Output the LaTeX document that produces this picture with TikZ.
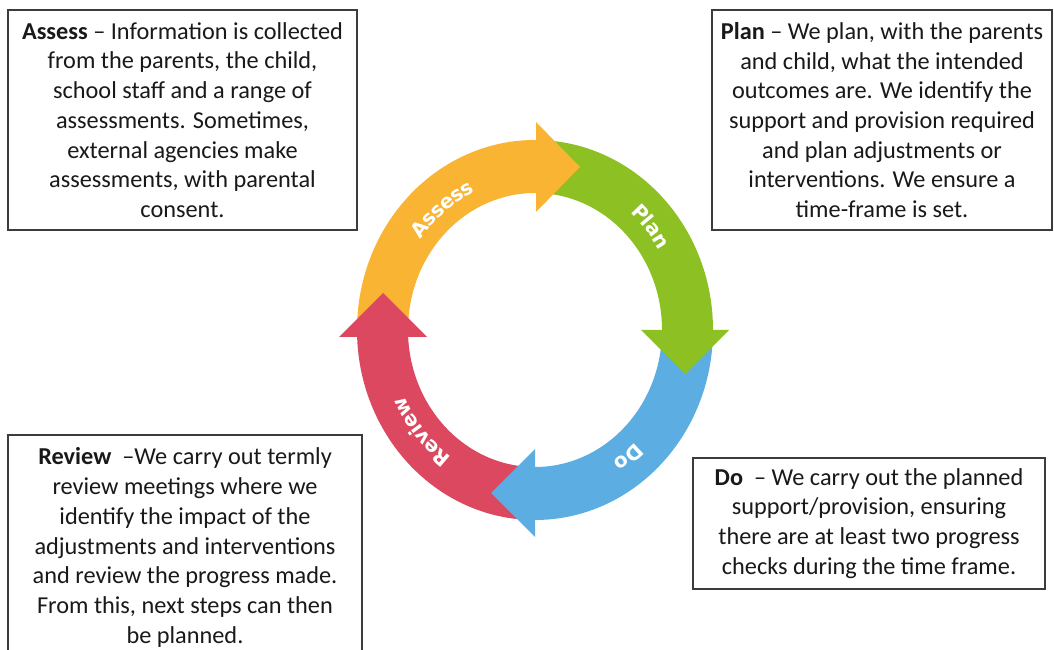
\documentclass[tikz,border=0pt]{standalone}
\usepackage{fontspec}
\setmainfont{Carlito}
\newfontfamily\lblfont{DejaVu Sans}
\usetikzlibrary{calc,decorations.text}
\definecolor{cOrange}{RGB}{248,180,50}
\definecolor{cGreen}{RGB}{140,192,35}
\definecolor{cBlue}{RGB}{92,174,226}
\definecolor{cRed}{RGB}{220,72,96}
\definecolor{boxline}{RGB}{60,60,60}
\definecolor{boxtext}{RGB}{25,25,25}
\newcommand{\lblfmt}{\lblfont\bfseries\fontsize{20}{20}\selectfont\color{white}}
\begin{document}
\begin{tikzpicture}[x=1pt,y=1pt,
  infobox/.style={draw=boxline, line width=1.5, align=center, inner sep=0pt,
    font=\fontsize{24.3}{29.7}\selectfont, text=boxtext},
  lbl/.style={decorate, decoration={text along path, text align=center, raise=-7.5pt, text={|\lblfmt|#1}}}]
\useasboundingbox (0,0) rectangle (1054,650);
\fill[white] (0,0) rectangle (1054,650);
\coordinate (c) at (535,320);
% bodies: outer radii 178/190, inner 127/137
\fill[cOrange] ($(c)+(178:178 and 190)$) arc[start angle=178, end angle=89, x radius=178, y radius=190]
  -- ($(c)+(89:127 and 137)$) arc[start angle=89, end angle=178, x radius=127, y radius=137] -- cycle;
\fill[cGreen] ($(c)+(88:178 and 190)$) arc[start angle=88, end angle=-1, x radius=178, y radius=190]
  -- ($(c)+(-1:127 and 137)$) arc[start angle=-1, end angle=88, x radius=127, y radius=137] -- cycle;
\fill[cBlue] ($(c)+(-2:178 and 190)$) arc[start angle=-2, end angle=-91, x radius=178, y radius=190]
  -- ($(c)+(-91:127 and 137)$) arc[start angle=-91, end angle=-2, x radius=127, y radius=137] -- cycle;
\fill[cRed] ($(c)+(-92:178 and 190)$) arc[start angle=-92, end angle=-181, x radius=178, y radius=190]
  -- ($(c)+(-181:127 and 137)$) arc[start angle=-181, end angle=-92, x radius=127, y radius=137] -- cycle;
% arrowheads
\fill[cOrange] (536,438) -- (580,483) -- (536,528) -- cycle;
\fill[cGreen] (641,320) -- (685,276) -- (729,320) -- cycle;
\fill[cBlue] (535,113) -- (491,157) -- (535,201) -- cycle;
\fill[cRed] (339,313) -- (383,357) -- (427,313) -- cycle;
% labels along the arcs
\path[lbl=Assess] ($(c)+(152:150 and 160)$) arc[start angle=152, end angle=106, x radius=150, y radius=160];
\path[lbl=Plan] ($(c)+(62:152 and 163)$) arc[start angle=62, end angle=18, x radius=152, y radius=163];
\path[lbl=Do] ($(c)+(-30:152 and 163)$) arc[start angle=-30, end angle=-74, x radius=152, y radius=163];
\path[lbl=Review] ($(c)+(-117:152 and 163)$) arc[start angle=-117, end angle=-163, x radius=152, y radius=163];
% boxes
\node[infobox, minimum width=349, minimum height=220] (assessbox) at (182.5,530)
 {\textbf{Assess} – Information is collected\\ from the parents, the child,\\ school staff and a range of\\ assessments. Sometimes,\\ external agencies make\\ assessments, with parental\\ consent.};
\node[infobox, minimum width=340, minimum height=220] (planbox) at (882,530)
 {\textbf{Plan} – We plan, with the parents\\ and child, what the intended\\ outcomes are. We identify the\\ support and provision required\\ and plan adjustments or\\ interventions. We ensure a\\ time-frame is set.};
\node[infobox, minimum width=354, minimum height=225] (reviewbox) at (185,102.5)
 {\textbf{Review} \ –We carry out termly\\ review meetings where we\\ identify the impact of the\\ adjustments and interventions\\ and review the progress made.\\ From this, next steps can then\\ be planned.};
\node[infobox, minimum width=352, minimum height=131] (dobox) at (869,126.5)
 {\textbf{Do} \ – We carry out the planned\\ support/provision, ensuring\\ there are at least two progress\\ checks during the time frame.};
\end{tikzpicture}
\end{document}
